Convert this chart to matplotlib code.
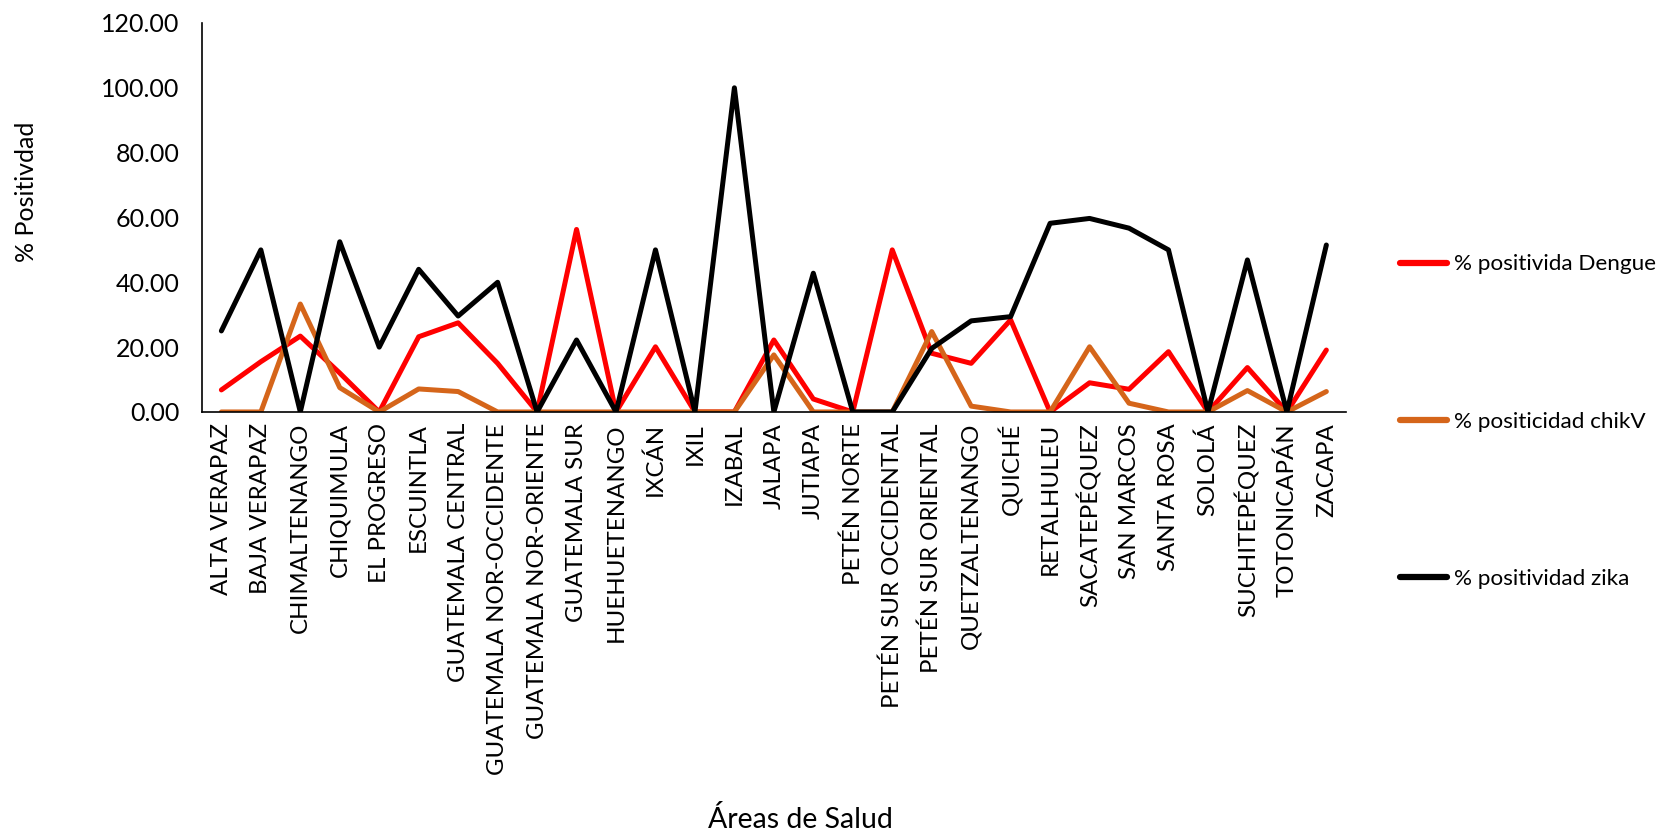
import matplotlib
matplotlib.use("Agg")
import matplotlib.pyplot as plt
import numpy as np

plt.rcParams['font.family'] = ['Lato', 'DejaVu Sans']

# areas de salud
areas = ["ALTA VERAPAZ", "BAJA VERAPAZ", "CHIMALTENANGO", "CHIQUIMULA",
         "EL PROGRESO", "ESCUINTLA", "GUATEMALA CENTRAL",
         "GUATEMALA NOR-OCCIDENTE", "GUATEMALA NOR-ORIENTE", "GUATEMALA SUR",
         "HUEHUETENANGO", "IXCÁN", "IXIL", "IZABAL", "JALAPA", "JUTIAPA",
         "PETÉN NORTE", "PETÉN SUR OCCIDENTAL", "PETÉN SUR ORIENTAL",
         "QUETZALTENANGO", "QUICHÉ", "RETALHULEU", "SACATEPÉQUEZ",
         "SAN MARCOS", "SANTA ROSA", "SOLOLÁ", "SUCHITEPÉQUEZ",
         "TOTONICAPÁN", "ZACAPA"]

dengue = [6.8, 15.5, 23.4, 12.0, 0, 23.2, 27.5, 15.0, 0, 56.3,
          0, 20.1, 0, 0, 22.2, 4.0, 0, 50.0, 18.1, 15.0,
          28.4, 0, 9.0, 7.0, 18.6, 0, 13.7, 0, 19.1]
chikv = [0, 0, 33.3, 7.5, 0, 7.1, 6.3, 0, 0, 0,
         0, 0, 0, 0, 17.6, 0, 0, 0, 24.8, 1.8,
         0, 0, 20.1, 2.7, 0, 0, 6.6, 0, 6.3]
zika = [25.0, 50.0, 0, 52.5, 20.0, 44.0, 29.6, 40.0, 0, 22.2,
        0, 50.0, 0, 100.0, 0, 42.8, 0, 0, 19.6, 28.1,
        29.4, 58.2, 59.7, 56.7, 50.0, 0, 46.9, 0, 51.5]

fig = plt.figure(figsize=(16.61, 8.38), dpi=100)
ax = fig.add_axes([0.1214, 0.5084, 0.6890, 0.4642])

x = np.arange(len(areas))
kw = dict(linewidth=3.6, solid_capstyle='round', solid_joinstyle='round')
ax.plot(x, dengue, color='#FF0000', label='% positivida Dengue', **kw)
ax.plot(x, chikv, color='#D5651A', label='% positicidad chikV', **kw)
ax.plot(x, zika, color='#000000', label='% positividad zika', **kw)

ax.set_xlim(-0.5, len(areas) - 0.5)
ax.set_ylim(0, 120)
ax.set_yticks(np.arange(0, 121, 20))
ax.set_yticklabels(['%.2f' % v for v in np.arange(0, 121, 20)], fontsize=18)
ax.set_xticks(x)
ax.set_xticklabels(areas, rotation=90, fontsize=17.3)
ax.tick_params(axis='y', length=0, pad=16)
ax.tick_params(axis='x', length=0, pad=8)

for s in ['top', 'right']:
    ax.spines[s].set_visible(False)
ax.spines['left'].set_linewidth(1.2)
ax.spines['bottom'].set_linewidth(1.2)

fig.text(0.016, 0.771, '% Positivdad', rotation=90, fontsize=18,
         ha='center', va='center')
fig.text(0.4816, 0.022, 'Áreas de Salud', fontsize=20.5, ha='center', va='center')

leg = ax.legend(loc='center left', bbox_to_anchor=(1.0393, -0.025), frameon=False,
                fontsize=16.2, handlelength=2.1, handletextpad=0.3,
                labelspacing=6.1, borderaxespad=0)
for h in leg.get_lines():
    h.set_linewidth(4.5)

fig.savefig('out.png', dpi=100)
